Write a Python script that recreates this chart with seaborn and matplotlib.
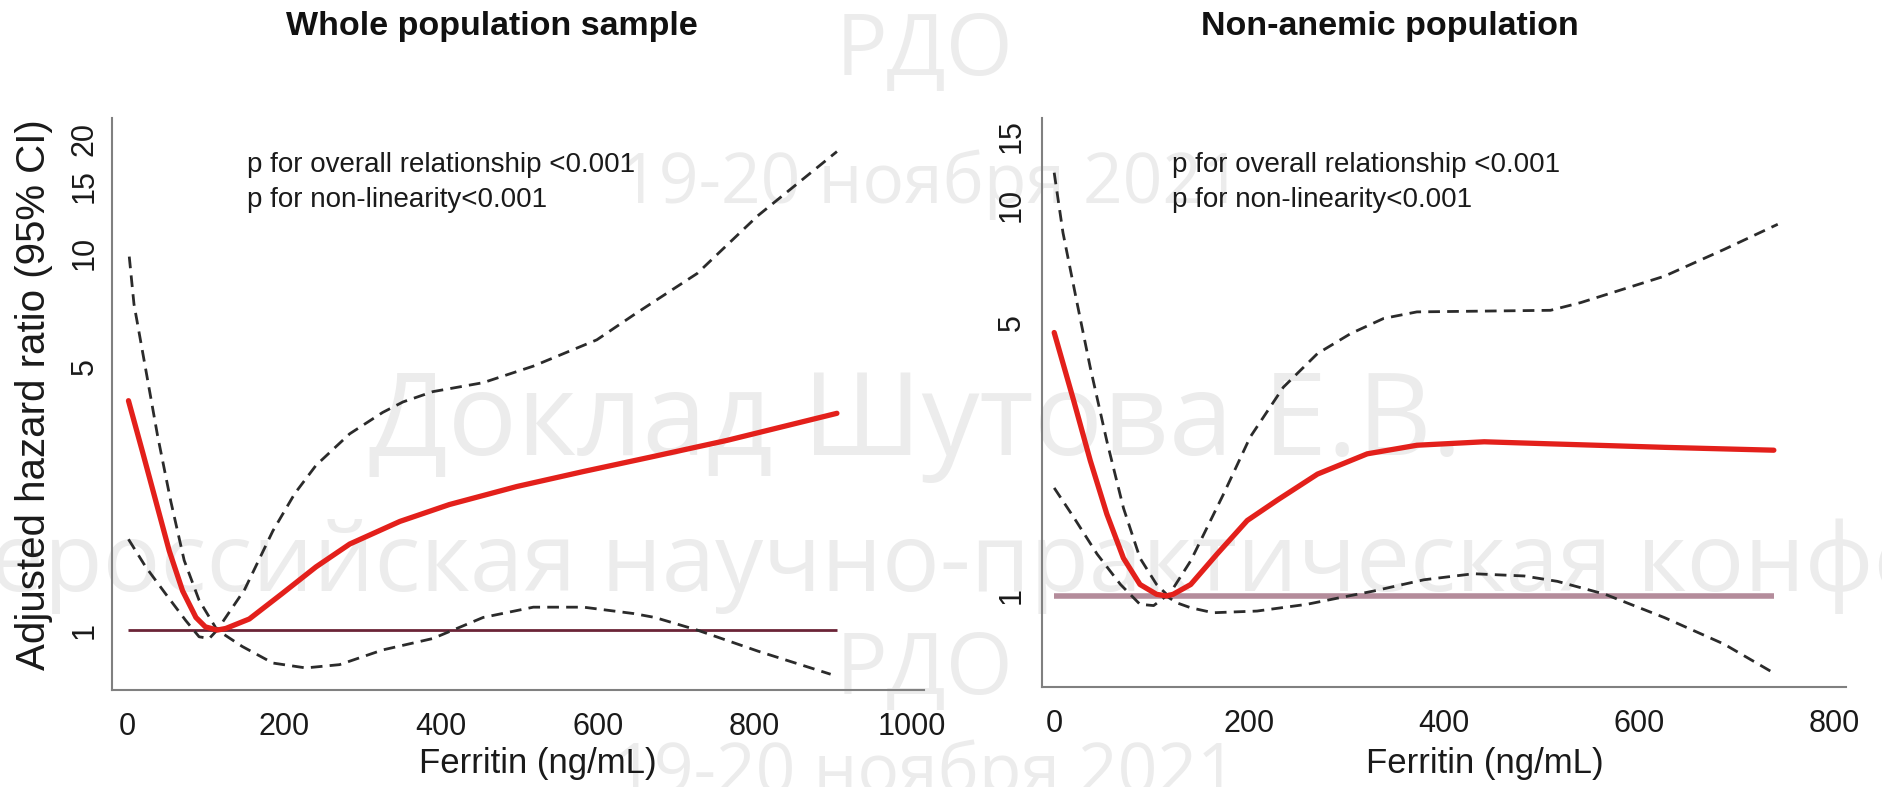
import numpy as np
import pandas as pd
import matplotlib
matplotlib.use("Agg")
import matplotlib.pyplot as plt
import seaborn as sns

# ---------------- data ----------------
# Whole population sample
whole_hr_x = [2, 20, 37, 54, 71, 88, 100, 115, 126, 156, 198, 241, 284, 348, 411, 497, 582, 667, 765, 905]
whole_hr_y = [4.05, 2.96, 2.19, 1.62, 1.27, 1.08, 1.02, 1.0, 1.01, 1.07, 1.25, 1.47, 1.69, 1.94, 2.15, 2.40,
              2.63, 2.87, 3.18, 3.75]

whole_up_x = [3, 9, 24, 39, 56, 73, 92, 115, 150, 186, 214, 241, 284, 326, 352, 390, 454, 518, 599, 649, 727,
              804, 905]
whole_up_y = [9.75, 7.3, 4.9, 3.28, 2.19, 1.53, 1.2, 1.0, 1.28, 1.83, 2.3, 2.73, 3.31, 3.77, 4.02, 4.28, 4.52,
              5.0, 5.87, 6.9, 8.8, 12.5, 18.5]

whole_lo_x = [2, 24, 49, 75, 92, 105, 115, 125, 147, 186, 228, 271, 326, 390, 454, 518, 582, 646, 673, 727, 804,
              897]
whole_lo_y = [1.74, 1.47, 1.25, 1.06, 0.96, 0.95, 1.0, 0.97, 0.905, 0.818, 0.794, 0.81, 0.886, 0.95, 1.08,
              1.15, 1.15, 1.106, 1.08, 1.0, 0.88, 0.764]

# Non-anemic population
nonan_hr_x = [0, 20, 37, 54, 71, 88, 105, 115, 122, 140, 167, 198, 229, 270, 321, 372, 441, 509, 626, 738]
nonan_hr_y = [4.72, 3.16, 2.22, 1.62, 1.25, 1.07, 1.01, 1.0, 1.01, 1.07, 1.28, 1.56, 1.76, 2.05, 2.31, 2.43,
              2.48, 2.45, 2.40, 2.36]

nonan_up_x = [0, 9, 23, 37, 54, 71, 88, 105, 117, 140, 174, 201, 235, 270, 304, 338, 372, 509, 540, 626, 687, 742]
nonan_up_y = [12.1, 8.5, 5.69, 3.84, 2.49, 1.68, 1.25, 1.07, 1.0, 1.23, 1.83, 2.55, 3.42, 4.17, 4.69, 5.13,
              5.33, 5.38, 5.63, 6.58, 7.7, 8.93]

nonan_lo_x = [0, 20, 44, 68, 88, 102, 115, 126, 140, 163, 208, 259, 293, 328, 379, 430, 482, 516, 565, 626, 687,
              738]
nonan_lo_y = [1.89, 1.59, 1.28, 1.07, 0.952, 0.945, 1.0, 0.96, 0.933, 0.906, 0.915, 0.952, 0.99, 1.03, 1.10,
              1.14, 1.125, 1.09, 1.01, 0.88, 0.753, 0.635]

reference_hr = 1

titles = ["Whole population sample", "Non-anemic population"]
x_label = "Ferritin (ng/mL)"
y_label = "Adjusted hazard ratio (95% CI)"
p_lines = ["p for overall relationship <0.001", "p for non-linearity<0.001"]
whole_xticks = [0, 200, 400, 600, 800, 1000]
nonan_xticks = [0, 200, 400, 600, 800]
whole_yticks = [1, 5, 10, 15, 20]
nonan_yticks = [1, 5, 10, 15]

watermarks = ["РДО", "19-20 ноября 2021", "Доклад Шутова Е.В.",
              "Всероссийская научно-практическая конференция", "РДО", "19-20 ноября 2021"]

# ---------------- style ----------------
sns.set_theme(style="white")
plt.rcParams["font.family"] = ["Liberation Sans", "DejaVu Sans"]

W, H = 1883, 787
fig = plt.figure(figsize=(W / 100, H / 100), dpi=100)
fig.patch.set_facecolor("white")

# watermark (faint, behind everything)
wm_color = "#ececec"
wm_specs = [  # (x px, y px, size)
    (925, 53, 62), (930, 185, 50), (916, 425, 83), (1078, 566, 69), (925, 672, 62), (925, 775, 50)]
for txt, (px, py, sz) in zip(watermarks, wm_specs):
    fig.text(px / W, 1 - py / H, txt, ha="center", va="center", fontsize=sz,
             color=wm_color, family=["Open Sans", "DejaVu Sans"], zorder=-5)

RED = "#e3201b"
DASH = "#2b2b2b"
AXC = "#808080"


def panel(rect, xlim, ylim, xticks, yticks, hr, up, lo, ref_color, ref_lw, ypad):
    ax = fig.add_axes(rect)
    ax.set_facecolor("none")
    ax.set_yscale("log")
    dash = (0, (4.2, 2.6))
    sns.lineplot(x=up[0], y=up[1], ax=ax, color=DASH, linewidth=2.0, linestyle=dash, sort=False, zorder=3)
    sns.lineplot(x=lo[0], y=lo[1], ax=ax, color=DASH, linewidth=2.0, linestyle=dash, sort=False, zorder=3)
    ax.hlines(reference_hr, min(hr[0]), max(hr[0]), color=ref_color, linewidth=ref_lw, zorder=2)
    sns.lineplot(x=hr[0], y=hr[1], ax=ax, color=RED, linewidth=3.8, sort=False, zorder=4)
    ax.set_xlim(*xlim)
    ax.set_ylim(*ylim)
    ax.set_xticks(xticks)
    ax.set_xticklabels([str(t) for t in xticks])
    ax.set_yticks(yticks)
    ax.set_yticklabels([str(t) for t in yticks], rotation=90, va="center")
    ax.yaxis.set_minor_locator(matplotlib.ticker.NullLocator())
    for s in ["top", "right"]:
        ax.spines[s].set_visible(False)
    for s in ["left", "bottom"]:
        ax.spines[s].set_color(AXC)
        ax.spines[s].set_linewidth(1.5)
    ax.tick_params(axis="both", direction="out", length=6, width=1.3, color=AXC,
                   labelsize=22, labelcolor="#1a1a1a")
    ax.tick_params(axis="x", pad=10)
    ax.tick_params(axis="y", pad=ypad)
    ax.set_xlabel("")
    ax.set_ylabel("")
    ax.grid(False)
    return ax


axL = panel([112 / W, 1 - 690 / H, (924 - 112) / W, (690 - 118) / H],
            (-19, 1016), (0.694, 22.7), whole_xticks, whole_yticks,
            (whole_hr_x, whole_hr_y), (whole_up_x, whole_up_y), (whole_lo_x, whole_lo_y),
            "#6b2437", 2.0, 3)
axR = panel([1042 / W, 1 - 687 / H, (1846 - 1042) / W, (687 - 118) / H],
            (-12.5, 812), (0.585, 16.7), nonan_xticks, nonan_yticks,
            (nonan_hr_x, nonan_hr_y), (nonan_up_x, nonan_up_y), (nonan_lo_x, nonan_lo_y),
            "#b48c9b", 4.0, 5)

# titles
fig.text(492 / W, 1 - 27 / H, titles[0], ha="center", va="center", fontsize=24.5, fontweight="bold",
         color="#111111")
fig.text(1390 / W, 1 - 27 / H, titles[1], ha="center", va="center", fontsize=24.5, fontweight="bold",
         color="#111111")

# p-value annotations
for x0 in (247, 1172):
    fig.text(x0 / W, 1 - 165 / H, p_lines[0], ha="left", va="center", fontsize=20, color="#1a1a1a")
    fig.text(x0 / W, 1 - 200 / H, p_lines[1], ha="left", va="center", fontsize=20, color="#1a1a1a")

# axis labels
fig.text(538 / W, 1 - 763 / H, x_label, ha="center", va="center", fontsize=25, color="#1a1a1a")
fig.text(1485 / W, 1 - 763 / H, x_label, ha="center", va="center", fontsize=25, color="#1a1a1a")
fig.text(34 / W, 1 - 395 / H, y_label, ha="center", va="center", rotation=90, fontsize=29,
         color="#1a1a1a")

fig.savefig("out.png", dpi=100, facecolor="white")
